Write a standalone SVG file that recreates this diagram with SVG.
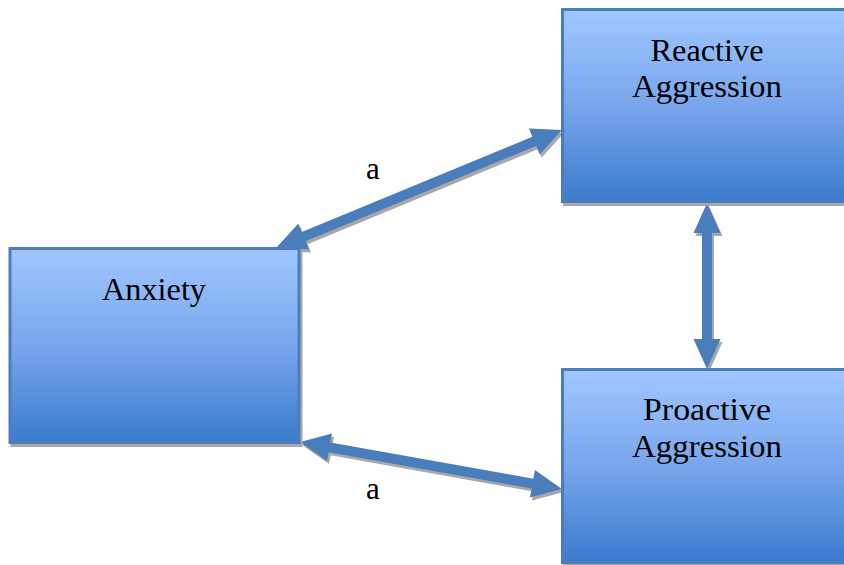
<svg xmlns="http://www.w3.org/2000/svg" width="844" height="565" viewBox="0 0 844 565">
  <defs>
    <linearGradient id="boxGrad" x1="0" y1="0" x2="0" y2="1">
      <stop offset="0" stop-color="#a1c6ff"/>
      <stop offset="0.5" stop-color="#78a6ec"/>
      <stop offset="1" stop-color="#3a7bcd"/>
    </linearGradient>
    <filter id="shadow" x="-10%" y="-10%" width="130%" height="130%">
      <feOffset in="SourceAlpha" dx="2" dy="3" result="off"/>
      <feFlood flood-color="#a8a8a8" result="col"/>
      <feComposite in="col" in2="off" operator="in" result="sh"/>
      <feMerge>
        <feMergeNode in="sh"/>
        <feMergeNode in="SourceGraphic"/>
      </feMerge>
    </filter>
  </defs>
  <style>
    .box { fill: url(#boxGrad); stroke: #4a7ebb; stroke-width: 3; filter: url(#shadow); }
    .lbl { font-family: "Liberation Serif", "DejaVu Serif", serif; font-size: 31px; fill: #000; text-anchor: middle; }
    .arrow { fill: #4a7dbb; filter: url(#shadow); }
  </style>
  <rect width="844" height="565" fill="#ffffff"/>

  <g id="connectors">
    <polygon class="arrow" points="276,248 309.07,249.5 305.64,241.18 536.18,146.06 539.61,154.38 562,130 528.93,128.5 532.36,136.82 301.82,231.94 298.39,223.62"/>
    <polygon class="arrow" points="300,442 327.06,461.08 328.65,452.22 531.59,488.62 530,497.48 562,489 534.94,469.92 533.35,478.78 330.41,442.38 332,433.52"/>
    <polygon class="arrow" points="707,203 720.5,233 712,233 712,339 720.5,339 707,369 693.5,339 702,339 702,233 693.5,233"/>
    <text class="lbl" x="373" y="179">a</text>
    <text class="lbl" x="373" y="499">a</text>
  </g>

  <g id="anxiety">
    <rect class="box" x="10" y="248.5" width="289" height="194"/>
    <text class="lbl" x="154" y="300" textLength="104" lengthAdjust="spacingAndGlyphs">Anxiety</text>
  </g>

  <g id="reactive">
    <rect class="box" x="562.5" y="9.5" width="300" height="192"/>
    <text class="lbl" x="707" y="61" textLength="113" lengthAdjust="spacingAndGlyphs">Reactive</text>
    <text class="lbl" x="707" y="97" textLength="150" lengthAdjust="spacingAndGlyphs">Aggression</text>
  </g>

  <g id="proactive">
    <rect class="box" x="562.5" y="369.5" width="300" height="193"/>
    <text class="lbl" x="707" y="420" textLength="128" lengthAdjust="spacingAndGlyphs">Proactive</text>
    <text class="lbl" x="707" y="457" textLength="150" lengthAdjust="spacingAndGlyphs">Aggression</text>
  </g>
</svg>
